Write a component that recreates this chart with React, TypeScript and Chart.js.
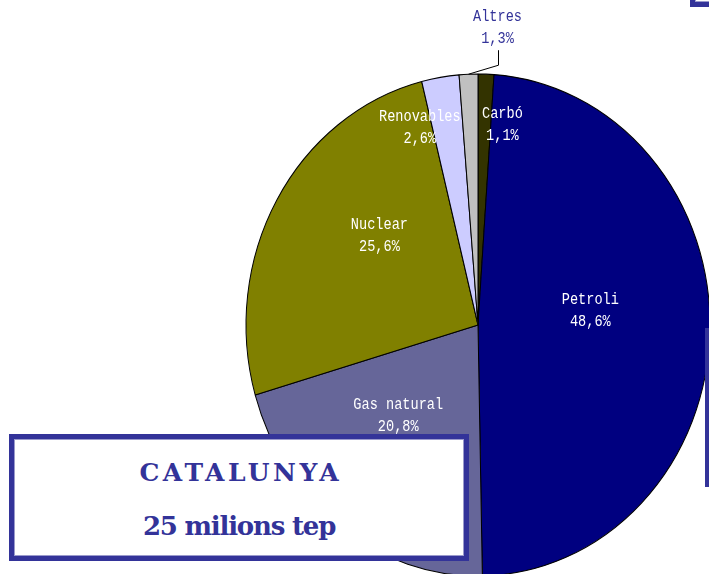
import React, { useEffect, useRef } from "react";
import { Chart, registerables } from "chart.js";

Chart.register(...registerables);

// ---- data ----
const categories = ["Carbó", "Petroli", "Gas natural", "Nuclear", "Renovables", "Altres"];
const shares = [1.1, 48.6, 20.8, 25.6, 2.6, 1.3];
const sliceColors = ["#333300", "#000080", "#666699", "#808000", "#CCCCFF", "#C0C0C0"];
const boxTitle = "CATALUNYA";
const boxSubtitle = "25 milions tep";

// ---- layout / style config ----
const STRETCH_Y = 251 / 232;
const PIE_RADIUS = 232;
const BLUE = "#333399";

// label placement relative to each slice's mid-angle (fraction of radius + pixel nudge)
const labelLayout = [
  { f: 0.8, dx: 18, dy: 0, color: "#ffffff" },
  { f: 0.48, dx: 1, dy: -17, color: "#ffffff" },
  { f: 0.5, dx: -11, dy: -10, color: "#ffffff" },
  { f: 0.5, dx: 2, dy: -27, color: "#ffffff" },
  { f: 0.8, dx: -28, dy: 1, color: "#ffffff" },
  { f: 1.0, dx: 29, dy: -46, color: BLUE, outside: true },
];

const fmtPct = (v: number) => v.toFixed(1).replace(".", ",") + "%";

const ellipsePlugin = {
  id: "ellipseStretch",
  beforeDatasetsDraw(chart: any) {
    const arc = chart.getDatasetMeta(0).data[0];
    if (!arc) return;
    const { x, y } = arc;
    const ctx = chart.ctx;
    ctx.save();
    ctx.translate(x, y);
    ctx.scale(1, STRETCH_Y);
    ctx.translate(-x, -y);
  },
  afterDatasetsDraw(chart: any) {
    chart.ctx.restore();
  },
};

const labelPlugin = {
  id: "sliceLabels",
  afterDraw(chart: any) {
    const ctx = chart.ctx;
    const meta = chart.getDatasetMeta(0);
    const values = chart.data.datasets[0].data as number[];
    const labels = chart.data.labels as string[];
    meta.data.forEach((arc: any, i: number) => {
      const cfg = labelLayout[i];
      const mid = (arc.startAngle + arc.endAngle) / 2;
      const r = arc.outerRadius;
      const ax = arc.x + Math.cos(mid) * r * cfg.f;
      const ay = arc.y + Math.sin(mid) * r * cfg.f * STRETCH_Y;
      const cx = ax + cfg.dx;
      const cy = ay + cfg.dy;
      ctx.save();
      if (cfg.outside) {
        ctx.strokeStyle = "#000";
        ctx.lineWidth = 1;
        ctx.beginPath();
        ctx.moveTo(ax, ay);
        ctx.lineTo(Math.round(cx) + 0.5, ay - 9);
        ctx.lineTo(Math.round(cx) + 0.5, cy + 22);
        ctx.stroke();
      }
      ctx.fillStyle = cfg.color;
      ctx.font = "16px 'Liberation Mono', 'DejaVu Sans Mono', monospace";
      ctx.textAlign = "center";
      ctx.textBaseline = "middle";
      const lines = [labels[i], fmtPct(values[i])];
      lines.forEach((t, k) => {
        ctx.save();
        ctx.translate(cx, cy - 11 + k * 22);
        ctx.scale(0.85, 1);
        ctx.fillText(t, 0, 0);
        ctx.restore();
      });
      ctx.restore();
    });
  },
};

const boxStyle = (left: number, top: number, width: number, height: number): React.CSSProperties => ({
  position: "absolute",
  left,
  top,
  width,
  height,
  boxSizing: "border-box",
  border: `5px solid ${BLUE}`,
  boxShadow: "inset 0 0 0 1px #9a9acc",
  background: "#ffffff",
});

export default function App() {
  const canvasRef = useRef<HTMLCanvasElement | null>(null);

  useEffect(() => {
    if (!canvasRef.current) return;
    const chart = new Chart(canvasRef.current, {
      type: "pie",
      data: {
        labels: categories,
        datasets: [
          {
            data: shares,
            backgroundColor: sliceColors,
            borderColor: "#000000",
            borderWidth: 1,
            radius: PIE_RADIUS,
          } as any,
        ],
      },
      options: {
        animation: false,
        responsive: false,
        events: [],
        layout: { padding: 0 },
        plugins: {
          legend: { display: false },
          tooltip: { enabled: false },
          title: { display: false },
        },
      },
      plugins: [ellipsePlugin, labelPlugin],
    });
    return () => chart.destroy();
  }, []);

  return (
    <div
      style={{
        position: "fixed",
        left: 0,
        top: 0,
        width: 709,
        height: 574,
        overflow: "hidden",
        background: "#ffffff",
      }}
    >
      <canvas
        ref={canvasRef}
        width={500}
        height={650}
        style={{ position: "absolute", left: 228, top: 0, width: 500, height: 650 }}
      />
      <div style={boxStyle(690, -100, 100, 107)} />
      <div style={boxStyle(705, 328, 100, 159)} />
      <div style={boxStyle(9, 434, 460, 127)}>
        <div
          style={{
            position: "absolute",
            left: 0,
            right: 0,
            top: 20,
            textAlign: "center",
            fontFamily: "'DejaVu Serif', serif",
            fontWeight: "bold",
            fontSize: 25,
            lineHeight: "28px",
            letterSpacing: 3.5,
            color: BLUE,
            paddingLeft: 3.5,
          }}
        >
          {boxTitle}
        </div>
        <div
          style={{
            position: "absolute",
            left: 0,
            right: 0,
            top: 72,
            textAlign: "center",
            fontFamily: "'DejaVu Serif', serif",
            fontWeight: "bold",
            fontSize: 26,
            lineHeight: "30px",
            letterSpacing: -1.2,
            color: BLUE,
          }}
        >
          {boxSubtitle}
        </div>
      </div>
    </div>
  );
}
